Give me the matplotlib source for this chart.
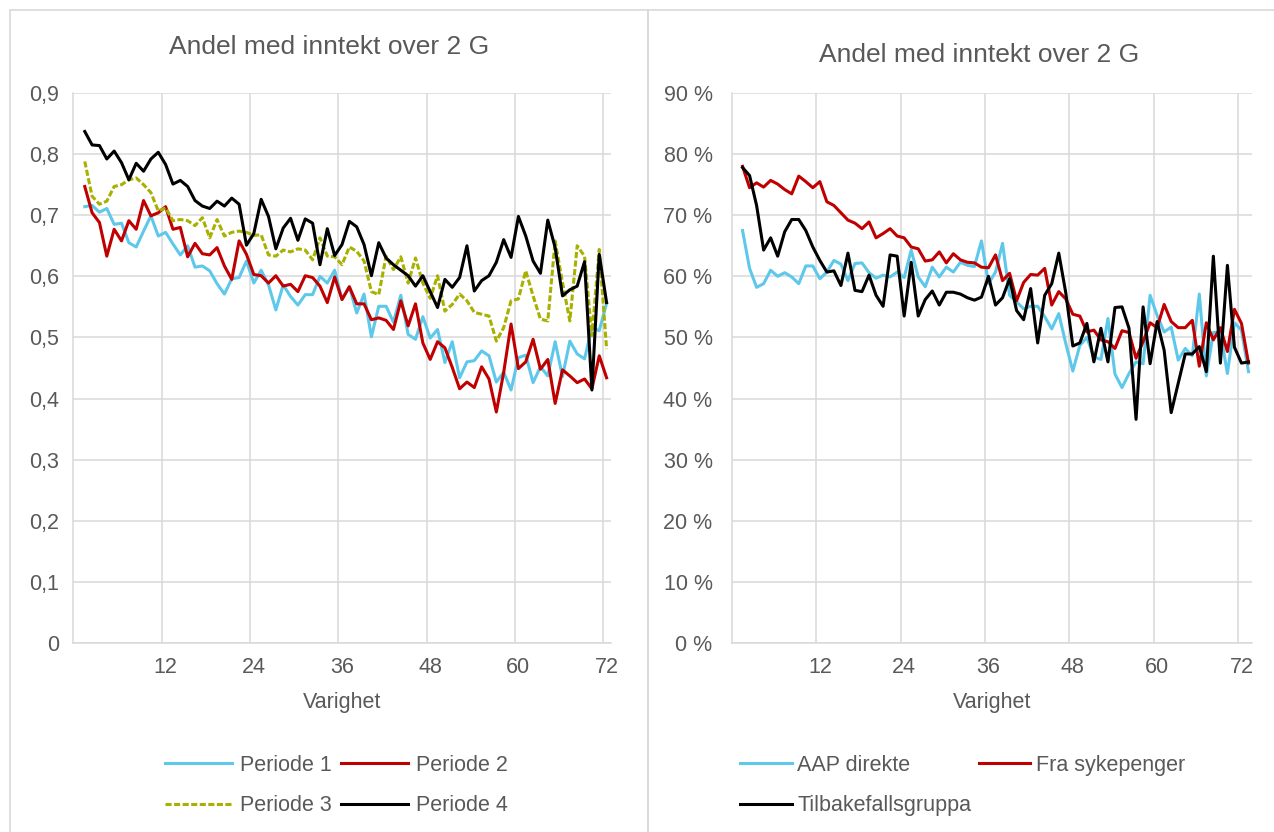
import matplotlib
matplotlib.use("Agg")
import matplotlib.pyplot as plt
from matplotlib.patches import Rectangle
from matplotlib.ticker import FuncFormatter

# --- data: andel med inntekt over 2 G, per maaned (varighet 1..72 / 1..73) ---
periode_1 = [0.714, 0.716, 0.705, 0.711, 0.685, 0.687, 0.655, 0.648, 0.674, 0.699,
             0.666, 0.672, 0.653, 0.635, 0.650, 0.615, 0.617, 0.609, 0.588, 0.571,
             0.596, 0.598, 0.625, 0.589, 0.610, 0.586, 0.545, 0.586, 0.567, 0.553,
             0.570, 0.570, 0.600, 0.589, 0.610, 0.562, 0.583, 0.540, 0.571, 0.501,
             0.551, 0.551, 0.525, 0.569, 0.505, 0.497, 0.534, 0.499, 0.513, 0.459,
             0.493, 0.434, 0.460, 0.462, 0.478, 0.470, 0.427, 0.443, 0.414, 0.467,
             0.471, 0.426, 0.452, 0.437, 0.493, 0.436, 0.494, 0.473, 0.465, 0.516,
             0.511, 0.556]
periode_2 = [0.747, 0.704, 0.688, 0.633, 0.677, 0.658, 0.691, 0.677, 0.724, 0.699,
             0.704, 0.714, 0.677, 0.680, 0.632, 0.654, 0.637, 0.635, 0.647, 0.617,
             0.595, 0.658, 0.636, 0.603, 0.601, 0.589, 0.601, 0.584, 0.587, 0.575,
             0.601, 0.598, 0.584, 0.557, 0.599, 0.562, 0.583, 0.555, 0.555, 0.529,
             0.532, 0.528, 0.513, 0.560, 0.519, 0.555, 0.491, 0.464, 0.493, 0.483,
             0.451, 0.416, 0.427, 0.418, 0.452, 0.432, 0.378, 0.443, 0.522, 0.449,
             0.460, 0.497, 0.448, 0.464, 0.392, 0.447, 0.437, 0.426, 0.432, 0.416,
             0.470, 0.434]
periode_3 = [0.788, 0.731, 0.718, 0.723, 0.747, 0.750, 0.758, 0.761, 0.750, 0.737,
             0.707, 0.712, 0.691, 0.693, 0.691, 0.683, 0.696, 0.663, 0.693, 0.666,
             0.672, 0.674, 0.672, 0.667, 0.668, 0.635, 0.633, 0.643, 0.640, 0.645,
             0.643, 0.627, 0.663, 0.633, 0.632, 0.619, 0.648, 0.641, 0.625, 0.575,
             0.570, 0.633, 0.611, 0.632, 0.589, 0.630, 0.589, 0.564, 0.601, 0.543,
             0.554, 0.571, 0.560, 0.541, 0.538, 0.535, 0.494, 0.516, 0.560, 0.563,
             0.609, 0.568, 0.530, 0.527, 0.658, 0.590, 0.527, 0.650, 0.633, 0.503,
             0.644, 0.481]
periode_4 = [0.837, 0.815, 0.814, 0.792, 0.805, 0.786, 0.758, 0.785, 0.772, 0.792,
             0.803, 0.783, 0.751, 0.757, 0.747, 0.724, 0.715, 0.711, 0.723, 0.715,
             0.728, 0.718, 0.651, 0.670, 0.726, 0.698, 0.645, 0.679, 0.695, 0.659,
             0.694, 0.687, 0.619, 0.678, 0.634, 0.652, 0.690, 0.681, 0.652, 0.601,
             0.655, 0.630, 0.619, 0.610, 0.601, 0.584, 0.601, 0.575, 0.549, 0.595,
             0.582, 0.598, 0.650, 0.576, 0.593, 0.601, 0.623, 0.660, 0.631, 0.698,
             0.666, 0.625, 0.605, 0.692, 0.647, 0.568, 0.578, 0.584, 0.624, 0.414,
             0.636, 0.557]

aap_direkte = [0.675, 0.613, 0.582, 0.588, 0.610, 0.600, 0.606, 0.599, 0.588, 0.617,
               0.617, 0.596, 0.607, 0.626, 0.620, 0.593, 0.621, 0.622, 0.606, 0.597,
               0.602, 0.599, 0.607, 0.598, 0.643, 0.599, 0.583, 0.615, 0.599, 0.615,
               0.607, 0.623, 0.618, 0.616, 0.658, 0.588, 0.607, 0.654, 0.569, 0.558,
               0.547, 0.551, 0.551, 0.534, 0.514, 0.539, 0.490, 0.445, 0.487, 0.500,
               0.468, 0.464, 0.531, 0.440, 0.418, 0.441, 0.460, 0.457, 0.569, 0.536,
               0.509, 0.517, 0.463, 0.482, 0.470, 0.571, 0.437, 0.508, 0.509, 0.441,
               0.524, 0.512, 0.444]
fra_sykepenger = [0.780, 0.745, 0.753, 0.746, 0.757, 0.751, 0.742, 0.735, 0.764, 0.755,
                  0.745, 0.755, 0.722, 0.716, 0.704, 0.692, 0.687, 0.678, 0.689, 0.663,
                  0.670, 0.678, 0.666, 0.663, 0.648, 0.645, 0.625, 0.627, 0.640, 0.622,
                  0.637, 0.627, 0.623, 0.622, 0.615, 0.614, 0.635, 0.593, 0.605, 0.560,
                  0.590, 0.603, 0.602, 0.613, 0.553, 0.575, 0.563, 0.538, 0.535, 0.509,
                  0.512, 0.496, 0.493, 0.482, 0.511, 0.508, 0.466, 0.493, 0.524, 0.516,
                  0.554, 0.526, 0.516, 0.516, 0.528, 0.453, 0.524, 0.496, 0.516, 0.477,
                  0.546, 0.523, 0.458]
tilbakefall = [0.778, 0.765, 0.716, 0.643, 0.663, 0.633, 0.673, 0.693, 0.693, 0.675,
               0.648, 0.626, 0.607, 0.609, 0.585, 0.638, 0.577, 0.575, 0.602, 0.569,
               0.551, 0.635, 0.633, 0.535, 0.623, 0.535, 0.562, 0.576, 0.553, 0.574,
               0.574, 0.571, 0.565, 0.561, 0.566, 0.600, 0.553, 0.565, 0.596, 0.544,
               0.529, 0.580, 0.491, 0.569, 0.588, 0.638, 0.573, 0.486, 0.491, 0.523,
               0.460, 0.515, 0.460, 0.549, 0.550, 0.515, 0.366, 0.550, 0.457, 0.526,
               0.479, 0.377, 0.425, 0.473, 0.473, 0.485, 0.444, 0.633, 0.458, 0.618,
               0.484, 0.458, 0.460]

x_ticks = [12, 24, 36, 48, 60, 72]
y_ticks = [0, 0.1, 0.2, 0.3, 0.4, 0.5, 0.6, 0.7, 0.8, 0.9]

# --- stil ---
W, H = 1274, 832
GRID = "#d9d9d9"
TEXT = "#595959"
BLUE = "#5ec8eb"
RED = "#c00000"
OLIVE = "#a8b000"
FONT = "Liberation Sans"
plt.rcParams["font.family"] = FONT


def px(x0, y0, x1, y1):
    """Pikselboks (topp-venstre origo) -> figurkoordinater [l, b, w, h]."""
    return [x0 / W, 1 - y1 / H, (x1 - x0) / W, (y1 - y0) / H]


def setup_axis(ax, xlim, fmt, ypad):
    ax.set_xlim(*xlim)
    ax.set_ylim(0, 0.9)
    for s in ["top", "right"]:
        ax.spines[s].set_visible(False)
    ax.spines["left"].set_color(GRID)
    ax.spines["bottom"].set_color(GRID)
    ax.spines["left"].set_linewidth(1.1)
    ax.spines["bottom"].set_linewidth(1.1)
    ax.set_yticks(y_ticks)
    ax.yaxis.set_major_formatter(FuncFormatter(fmt))
    ax.set_xticks(x_ticks)
    ax.set_xticks([g + 11.5 for g in range(0, 72, 12)], minor=True)
    ax.grid(axis="y", which="major", color=GRID, lw=1.1)
    ax.grid(axis="x", which="minor", color=GRID, lw=1.1)
    ax.tick_params(which="both", length=0)
    ax.tick_params(axis="x", pad=10, labelsize=15.5, labelcolor=TEXT)
    ax.tick_params(axis="y", pad=ypad, labelsize=15.5, labelcolor=TEXT)
    ax.set_axisbelow(True)
    ax.set_xlabel("Varighet", fontsize=15.5, color=TEXT, labelpad=10)


fig = plt.figure(figsize=(W / 100, H / 100), dpi=100)

# panelrammer
fig.patches.append(Rectangle((10 / W, -0.1), 638 / W, 1.1 - 10 / H, transform=fig.transFigure,
                             fill=False, edgecolor=GRID, lw=1.2))
fig.patches.append(Rectangle((648 / W, -0.1), 0.6, 1.1 - 10 / H, transform=fig.transFigure,
                             fill=False, edgecolor=GRID, lw=1.2))

# --- venstre panel: perioder ---
ax1 = fig.add_axes(px(73, 93, 611, 643))
m72 = list(range(1, len(periode_1) + 1))
l1, = ax1.plot(m72, periode_1, color=BLUE, lw=2.2, label="Periode 1")
l2, = ax1.plot(m72, periode_2, color=RED, lw=2.2, label="Periode 2")
l3, = ax1.plot(m72, periode_3, color=OLIVE, lw=2.2, ls=(0, (2.0, 0.8)), label="Periode 3")
l4, = ax1.plot(m72, periode_4, color="black", lw=2.2, label="Periode 4")
setup_axis(ax1, (-0.6, 72.6), lambda v, p: f"{v:.1f}".replace(".", ",") if v else "0", 10)
fig.text(329 / W, 1 - 47 / H, "Andel med inntekt over 2 G", ha="center", va="center",
         fontsize=19, color=TEXT)
# legend fylles kolonnevis -> rekkefolge slik at radene blir 1,2 / 3,4
fig.legend(handles=[l1, l3, l2, l4], loc="upper left", ncol=2, frameon=False,
           bbox_to_anchor=(165 / W, 1 - 755 / H), bbox_transform=fig.transFigure,
           borderpad=0, borderaxespad=0, handlelength=3.1, handletextpad=0.37,
           columnspacing=0.45, labelspacing=0.9, fontsize=15.5, labelcolor=TEXT)

# --- hoyre panel: grupper ---
ax2 = fig.add_axes(px(732, 93, 1252, 643))
m73 = list(range(1, len(aap_direkte) + 1))
r1, = ax2.plot(m73, aap_direkte, color=BLUE, lw=2.2, label="AAP direkte")
r2, = ax2.plot(m73, fra_sykepenger, color=RED, lw=2.2, label="Fra sykepenger")
r3, = ax2.plot(m73, tilbakefall, color="black", lw=2.2, label="Tilbakefallsgruppa")
setup_axis(ax2, (-0.5, 73.5), lambda v, p: f"{round(v * 100)} %", 14)
fig.text(979 / W, 1 - 55 / H, "Andel med inntekt over 2 G", ha="center", va="center",
         fontsize=19, color=TEXT)
fig.legend(handles=[r1, r3, r2], loc="upper left", ncol=2, frameon=False,
           bbox_to_anchor=(740 / W, 1 - 755 / H), bbox_transform=fig.transFigure,
           borderpad=0, borderaxespad=0, handlelength=2.4, handletextpad=0.25,
           columnspacing=0.35, labelspacing=0.9, fontsize=15.5, labelcolor=TEXT)

fig.savefig("out.png", dpi=100, facecolor="white")
